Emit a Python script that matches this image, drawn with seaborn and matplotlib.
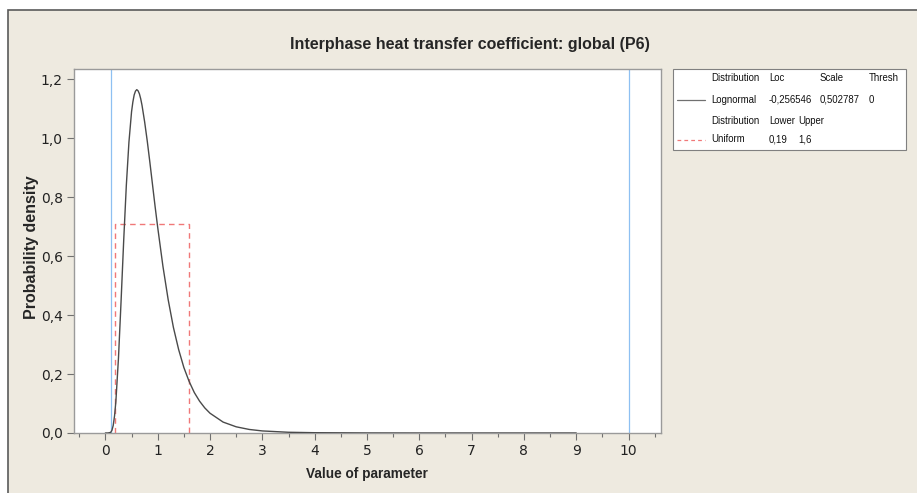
import matplotlib
matplotlib.use("Agg")
import matplotlib.pyplot as plt
from matplotlib.patches import Rectangle
from matplotlib.lines import Line2D
from matplotlib.ticker import FuncFormatter, MultipleLocator
import seaborn as sns
import pandas as pd

# ---- data ----
lognorm_x = [0.0, 0.05, 0.1, 0.125, 0.15, 0.175, 0.2, 0.25, 0.3, 0.35, 0.4, 0.45, 0.5,
             0.525, 0.55, 0.575, 0.6, 0.625, 0.65, 0.675, 0.7, 0.75, 0.8, 0.85, 0.9,
             0.95, 1.0, 1.1, 1.2, 1.3, 1.4, 1.5, 1.6, 1.7, 1.8, 1.9, 2.0, 2.25, 2.5,
             2.75, 3.0, 3.5, 4.0, 5.0, 6.0, 7.0, 8.0, 9.0]
lognorm_y = [0.0, 0.0, 0.002, 0.009, 0.026, 0.058, 0.106, 0.254, 0.448, 0.653, 0.839,
             0.986, 1.089, 1.122, 1.146, 1.159, 1.164, 1.160, 1.150, 1.133, 1.111,
             1.055, 0.990, 0.918, 0.843, 0.768, 0.697, 0.565, 0.452, 0.358, 0.283,
             0.222, 0.175, 0.137, 0.108, 0.085, 0.067, 0.037, 0.021, 0.012, 0.007,
             0.0025, 0.001, 0.0002, 0.0, 0.0, 0.0, 0.0]
uniform_x = [0.19, 0.19, 1.6, 1.6]
uniform_y = [0.0, 0.709, 0.709, 0.0]
ref_lines = [0.1, 10]

title = "Interphase heat transfer coefficient: global (P6)"
xlabel = "Value of parameter"
ylabel = "Probability density"
legend_rows = [
    ["Distribution", "Loc", "Scale", "Thresh"],
    ["Lognormal", "-0,256546", "0,502787", "0"],
    ["Distribution", "Lower", "Upper"],
    ["Uniform", "0,19", "1,6"],
]

# ---- style ----
sns.set_style("white")
plt.rcParams["font.family"] = ["DejaVu Sans"]
narrow = ["Liberation Sans", "DejaVu Sans"]

W, H = 917, 493
fig = plt.figure(figsize=(W / 100, H / 100), dpi=100)
fig.patch.set_facecolor("white")
bg = "#eeeae0"
frame = Rectangle((8 / W, -0.01), 1, 1 - 10 / H + 0.01, transform=fig.transFigure,
                  facecolor=bg, edgecolor="#5a5a5a", linewidth=1.2, zorder=-10)
fig.patches.append(frame)

def fx(px):
    return px / W

def fy(py):
    return 1 - py / H

ax = fig.add_axes([fx(74), fy(433), fx(661) - fx(74), fy(69) - fy(433)])
ax.set_zorder(5)
ax.set_facecolor("white")

df_l = pd.DataFrame({"x": lognorm_x, "y": lognorm_y})
df_u = pd.DataFrame({"x": uniform_x, "y": uniform_y})
for xv in ref_lines:
    ax.axvline(xv, color="#8ec0f2", lw=0.9, zorder=1)
sns.lineplot(data=df_l, x="x", y="y", ax=ax, color="#4a4a4a", lw=1.0, sort=False,
             estimator=None, zorder=3)
sns.lineplot(data=df_u, x="x", y="y", ax=ax, color="#f07878", lw=1.0, sort=False,
             estimator=None, linestyle=(0, (4, 3)), zorder=2)

ax.set_xlim(-0.6, 10.62)
ax.set_ylim(0, 1.234)
ax.xaxis.set_major_locator(MultipleLocator(1))
ax.xaxis.set_minor_locator(MultipleLocator(0.5))
ax.yaxis.set_major_locator(MultipleLocator(0.2))
ax.yaxis.set_major_formatter(FuncFormatter(lambda v, p: f"{v:.1f}".replace(".", ",")))
ax.xaxis.set_major_formatter(FuncFormatter(lambda v, p: f"{v:.0f}"))
ax.tick_params(axis="both", which="major", direction="out", length=5, width=0.8,
               color="#707070", labelsize=10, labelcolor="#222222", pad=3,
               bottom=True, left=True)
ax.tick_params(axis="x", which="minor", direction="out", length=3, width=0.8,
               color="#707070", bottom=True)
for s in ax.spines.values():
    s.set_color("#9a9a9a")
    s.set_linewidth(1.0)
ax.set_xlabel("")
ax.set_ylabel("")

fig.text(fx(470), fy(45), title, ha="center", va="center", fontsize=11.5,
         fontweight="bold", family=narrow)
fig.text(fx(367), fy(474), xlabel, ha="center", va="center", fontsize=9.8,
         fontweight="bold", family=narrow)
fig.text(fx(32), fy(247), ylabel, ha="center", va="center", fontsize=11.5,
         fontweight="bold", family=narrow, rotation=90)

# legend box
fig.patches.append(Rectangle((fx(673), fy(150)), fx(906) - fx(673), fy(69) - fy(150),
                             transform=fig.transFigure, facecolor="white",
                             edgecolor="#808080", linewidth=0.8, zorder=2))
row_y = [78, 100, 121, 139.5]
cols4 = [711, 769, 820, 869]
cols3 = [711, 769, 798]
for r, (cells, yy) in enumerate(zip(legend_rows, row_y)):
    cols = cols4 if r < 2 else cols3
    for c, t in zip(cols, cells):
        fig.text(fx(c), fy(yy), t, ha="left", va="center", fontsize=6.9,
                 family=narrow, color="#111111", zorder=3)
fig.lines.append(Line2D([fx(677), fx(705)], [fy(100), fy(100)], transform=fig.transFigure,
                        color="#707070", lw=0.9, zorder=3))
fig.lines.append(Line2D([fx(677), fx(705)], [fy(139.5), fy(139.5)], transform=fig.transFigure,
                        color="#f07878", lw=0.9, linestyle=(0, (3, 2.5)), zorder=3))

fig.savefig("out.png", dpi=100, facecolor=fig.get_facecolor())
